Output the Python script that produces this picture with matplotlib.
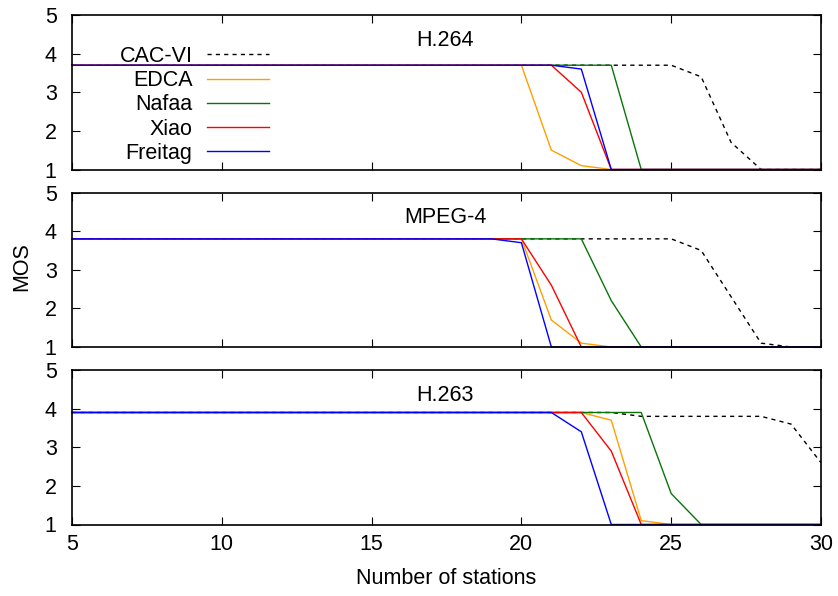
import matplotlib.pyplot as plt
import numpy as np

plt.rcParams.update({"font.family": ["Liberation Sans", "DejaVu Sans"], "font.size": 15.5})

stations = np.arange(5, 31)
names = ['CAC-VI', 'EDCA', 'Nafaa', 'Xiao', 'Freitag']
codecs = ['H.264', 'MPEG-4', 'H.263']

# H.264
h264_cac = [3.7, 3.7, 3.7, 3.7, 3.7, 3.7, 3.7, 3.7, 3.7, 3.7, 3.7, 3.7, 3.7, 3.7, 3.7, 3.7, 3.7, 3.7, 3.7, 3.7, 3.7, 3.4, 1.7, 1.0, 1.0, 1.0]
h264_edca = [3.7, 3.7, 3.7, 3.7, 3.7, 3.7, 3.7, 3.7, 3.7, 3.7, 3.7, 3.7, 3.7, 3.7, 3.7, 3.7, 1.5, 1.1, 1.0, 1.0, 1.0, 1.0, 1.0, 1.0, 1.0, 1.0]
h264_nafaa = [3.7, 3.7, 3.7, 3.7, 3.7, 3.7, 3.7, 3.7, 3.7, 3.7, 3.7, 3.7, 3.7, 3.7, 3.7, 3.7, 3.7, 3.7, 3.7, 1.0, 1.0, 1.0, 1.0, 1.0, 1.0, 1.0]
h264_xiao = [3.7, 3.7, 3.7, 3.7, 3.7, 3.7, 3.7, 3.7, 3.7, 3.7, 3.7, 3.7, 3.7, 3.7, 3.7, 3.7, 3.7, 3.0, 1.0, 1.0, 1.0, 1.0, 1.0, 1.0, 1.0, 1.0]
h264_freitag = [3.7, 3.7, 3.7, 3.7, 3.7, 3.7, 3.7, 3.7, 3.7, 3.7, 3.7, 3.7, 3.7, 3.7, 3.7, 3.7, 3.7, 3.6, 1.0, 1.0, 1.0, 1.0, 1.0, 1.0, 1.0, 1.0]

# MPEG-4
mpeg4_cac = [3.8, 3.8, 3.8, 3.8, 3.8, 3.8, 3.8, 3.8, 3.8, 3.8, 3.8, 3.8, 3.8, 3.8, 3.8, 3.8, 3.8, 3.8, 3.8, 3.8, 3.8, 3.5, 2.3, 1.1, 1.0, 1.0]
mpeg4_edca = [3.8, 3.8, 3.8, 3.8, 3.8, 3.8, 3.8, 3.8, 3.8, 3.8, 3.8, 3.8, 3.8, 3.8, 3.8, 3.8, 1.7, 1.1, 1.0, 1.0, 1.0, 1.0, 1.0, 1.0, 1.0, 1.0]
mpeg4_nafaa = [3.8, 3.8, 3.8, 3.8, 3.8, 3.8, 3.8, 3.8, 3.8, 3.8, 3.8, 3.8, 3.8, 3.8, 3.8, 3.8, 3.8, 3.8, 2.2, 1.0, 1.0, 1.0, 1.0, 1.0, 1.0, 1.0]
mpeg4_xiao = [3.8, 3.8, 3.8, 3.8, 3.8, 3.8, 3.8, 3.8, 3.8, 3.8, 3.8, 3.8, 3.8, 3.8, 3.8, 3.8, 2.6, 1.0, 1.0, 1.0, 1.0, 1.0, 1.0, 1.0, 1.0, 1.0]
mpeg4_freitag = [3.8, 3.8, 3.8, 3.8, 3.8, 3.8, 3.8, 3.8, 3.8, 3.8, 3.8, 3.8, 3.8, 3.8, 3.8, 3.7, 1.0, 1.0, 1.0, 1.0, 1.0, 1.0, 1.0, 1.0, 1.0, 1.0]

# H.263
h263_cac = [3.9, 3.9, 3.9, 3.9, 3.9, 3.9, 3.9, 3.9, 3.9, 3.9, 3.9, 3.9, 3.9, 3.9, 3.9, 3.9, 3.9, 3.9, 3.9, 3.8, 3.8, 3.8, 3.8, 3.8, 3.6, 2.6]
h263_edca = [3.9, 3.9, 3.9, 3.9, 3.9, 3.9, 3.9, 3.9, 3.9, 3.9, 3.9, 3.9, 3.9, 3.9, 3.9, 3.9, 3.9, 3.9, 3.7, 1.1, 1.0, 1.0, 1.0, 1.0, 1.0, 1.0]
h263_nafaa = [3.9, 3.9, 3.9, 3.9, 3.9, 3.9, 3.9, 3.9, 3.9, 3.9, 3.9, 3.9, 3.9, 3.9, 3.9, 3.9, 3.9, 3.9, 3.9, 3.9, 1.8, 1.0, 1.0, 1.0, 1.0, 1.0]
h263_xiao = [3.9, 3.9, 3.9, 3.9, 3.9, 3.9, 3.9, 3.9, 3.9, 3.9, 3.9, 3.9, 3.9, 3.9, 3.9, 3.9, 3.9, 3.9, 2.9, 1.0, 1.0, 1.0, 1.0, 1.0, 1.0, 1.0]
h263_freitag = [3.9, 3.9, 3.9, 3.9, 3.9, 3.9, 3.9, 3.9, 3.9, 3.9, 3.9, 3.9, 3.9, 3.9, 3.9, 3.9, 3.9, 3.4, 1.0, 1.0, 1.0, 1.0, 1.0, 1.0, 1.0, 1.0]

panels = [
    [h264_cac, h264_edca, h264_nafaa, h264_xiao, h264_freitag],
    [mpeg4_cac, mpeg4_edca, mpeg4_nafaa, mpeg4_xiao, mpeg4_freitag],
    [h263_cac, h263_edca, h263_nafaa, h263_xiao, h263_freitag],
]

colors = ['black', '#ffa000', '#0a740a', '#ff0000', '#0000ff']
styles = [(0, (3, 3)), 'solid', 'solid', 'solid', 'solid']

fig = plt.figure(figsize=(8.38, 5.96), dpi=100)
left = 72 / 838
width = (821 - 72) / 838
bottoms = [1 - 169.5 / 596, 1 - 347 / 596, 1 - 524.5 / 596]
height = 154.5 / 596

axes = []
for p in range(3):
    ax = fig.add_axes([left, bottoms[p], width, height])
    axes.append(ax)
    for i in range(5):
        ax.plot(stations, panels[p][i], color=colors[i], linestyle=styles[i], linewidth=1.0, label=names[i], clip_on=False)
    ax.set_xlim(5, 30)
    ax.set_ylim(1, 5)
    ax.set_yticks([1, 2, 3, 4, 5])
    ax.set_xticks([5, 10, 15, 20, 25, 30])
    ax.tick_params(direction='in', top=True, right=True, length=5.5, width=0.8)
    ax.tick_params(axis='y', pad=11)
    ax.tick_params(axis='x', pad=7)
    for s in ax.spines.values():
        s.set_linewidth(1.2)
    if p < 2:
        ax.set_xticklabels([])
    ax.text(17.45, 4.2, codecs[p], ha='center', va='baseline')

leg = axes[0].legend(loc='upper right', bbox_to_anchor=(0.263, 0.80), frameon=False, markerfirst=False,
                     handlelength=2.9, handletextpad=0.65, labelspacing=0.15, borderpad=0, borderaxespad=0)

fig.text(21.7 / 838, 1 - 267 / 596, 'MOS', rotation=90, ha='center', va='center')
fig.text(446 / 838, 1 - 578 / 596, 'Number of stations', ha='center', va='center')

plt.savefig('out.png', dpi=100)
